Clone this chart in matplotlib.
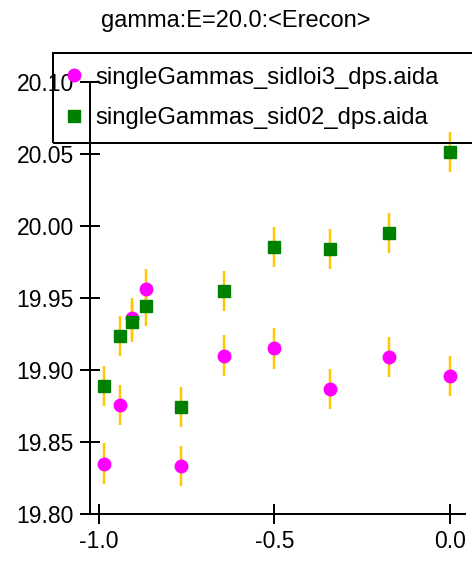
import matplotlib
matplotlib.use("Agg")
import matplotlib.pyplot as plt
from matplotlib.lines import Line2D

plt.rcParams['font.family'] = ['Liberation Sans', 'DejaVu Sans']

title = "gamma:E=20.0:<Erecon>"
labels = ["singleGammas_sidloi3_dps.aida", "singleGammas_sid02_dps.aida"]

x = [-0.985, -0.940, -0.906, -0.866, -0.766, -0.643, -0.500, -0.342, -0.174, 0.0]
y_loi3 = [19.835, 19.8755, 19.936, 19.956, 19.8335, 19.910, 19.915, 19.887, 19.909, 19.896]
e_loi3 = [0.014, 0.014, 0.014, 0.014, 0.014, 0.014, 0.014, 0.014, 0.014, 0.014]
y_sid02 = [19.889, 19.9235, 19.9335, 19.9445, 19.8745, 19.955, 19.9855, 19.984, 19.995, 20.0515]
e_sid02 = [0.014, 0.014, 0.014, 0.014, 0.014, 0.014, 0.014, 0.014, 0.014, 0.014]

xticks = [-1.0, -0.5, 0.0]
xticklabels = ["-1.0", "-0.5", "0.0"]
yticks = [19.80, 19.85, 19.90, 19.95, 20.00, 20.05, 20.10]
yticklabels = ["19.80", "19.85", "19.90", "19.95", "20.00", "20.05", "20.10"]

W, H = 472, 562
fig = plt.figure(figsize=(W / 100, H / 100), dpi=100)
ax = fig.add_axes([90 / W, (H - 514) / H, 375 / W, 432 / H])

err_color = '#ffc800'
px = 72 / 100
ms = 12.5 * px
ax.errorbar(x, y_loi3, yerr=e_loi3, fmt='o', color='#ff00ff', markersize=ms,
            ecolor=err_color, elinewidth=2.5 * px, capsize=0)
ax.errorbar(x, y_sid02, yerr=e_sid02, fmt='s', color='#008000', markersize=ms,
            ecolor=err_color, elinewidth=2.5 * px, capsize=0)

ax.set_xlim(-1.0256, 0.0427)
ax.set_ylim(19.80, 20.10)
ax.set_xticks(xticks)
ax.set_xticklabels(xticklabels)
ax.set_yticks(yticks)
ax.set_yticklabels(yticklabels)

for s in ['top', 'right']:
    ax.spines[s].set_visible(False)
for s in ['left', 'bottom']:
    ax.spines[s].set_linewidth(2 * px)
ax.tick_params(axis='both', direction='inout', length=20 * px, width=2 * px,
               labelsize=16.5, colors='black')
ax.tick_params(axis='x', pad=6 * px)
ax.tick_params(axis='y', pad=6 * px)

fig.text(236 / W, 1 - 21 / H, title, ha='center', va='center', fontsize=17)

handles = [Line2D([], [], linestyle='none', marker='o', color='#ff00ff', markersize=ms),
           Line2D([], [], linestyle='none', marker='s', color='#008000', markersize=ms)]
leg = ax.legend(handles, labels, loc='upper left',
                bbox_to_anchor=(53 / W, (H - 142) / H, 440 / W, 89 / H),
                bbox_transform=fig.transFigure, mode='expand', borderaxespad=0,
                fontsize=17.2, frameon=True, fancybox=False,
                handlelength=0.6, handletextpad=0.6, labelspacing=0.78, borderpad=0.57,
                numpoints=1)
frame = leg.get_frame()
frame.set_facecolor('none')
frame.set_edgecolor('black')
frame.set_linewidth(2 * px)
frame.set_alpha(None)

fig.savefig("out.png", dpi=100)
